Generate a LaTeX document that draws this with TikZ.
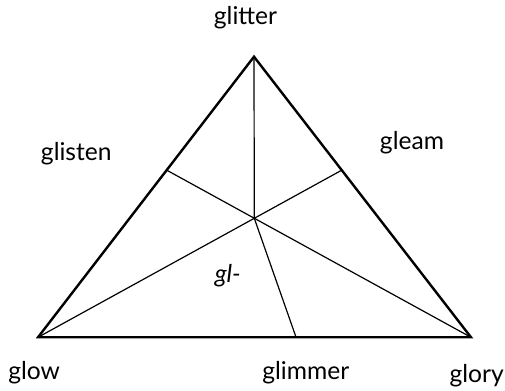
\documentclass[tikz,border=0pt]{standalone}
\usepackage{fontspec}
\setmainfont{Lato}
\usetikzlibrary{calc}

\begin{document}
\begin{tikzpicture}[
  x=0.5pt, y=0.5pt,
  edge/.style={line width=1.2pt, line join=miter},
  ray/.style={line width=0.6pt},
  word/.style={font=\fontsize{12.3}{15}\selectfont, inner sep=0pt}
]
\useasboundingbox (0,0) rectangle (505,391);
% corners and centre of the triangle
\coordinate (top) at (254,334.3);
\coordinate (left) at (38,53.7);
\coordinate (right) at (471,53.7);
\coordinate (mid) at (254.3,172.7);
\coordinate (lside) at (intersection of right--mid and left--top);
\coordinate (rside) at (intersection of left--mid and right--top);
\coordinate (base) at ($(left)!0.596!(right)$);
\draw[edge] (left) -- (top) -- (right) -- cycle;
\draw[ray] (top) -- (mid) -- (base);
\draw[ray] (left) -- (rside);
\draw[ray] (right) -- (lside);
% labels
\node[word] (glitter) at (245.5,373.5) {glitter};
\node[word] (glisten) at (76.3,237) {glisten};
\node[word] (gleam) at (412,248) {gleam};
\node[word] (glow) at (34.2,18) {glow};
\node[word] (glimmer) at (305.8,18) {glimmer};
\node[word] (glory) at (476.7,15.5) {glory};
\node[word, font=\fontsize{12.3}{15}\selectfont\itshape] (gl) at (227.8,115) {gl-};
\end{tikzpicture}
\end{document}
